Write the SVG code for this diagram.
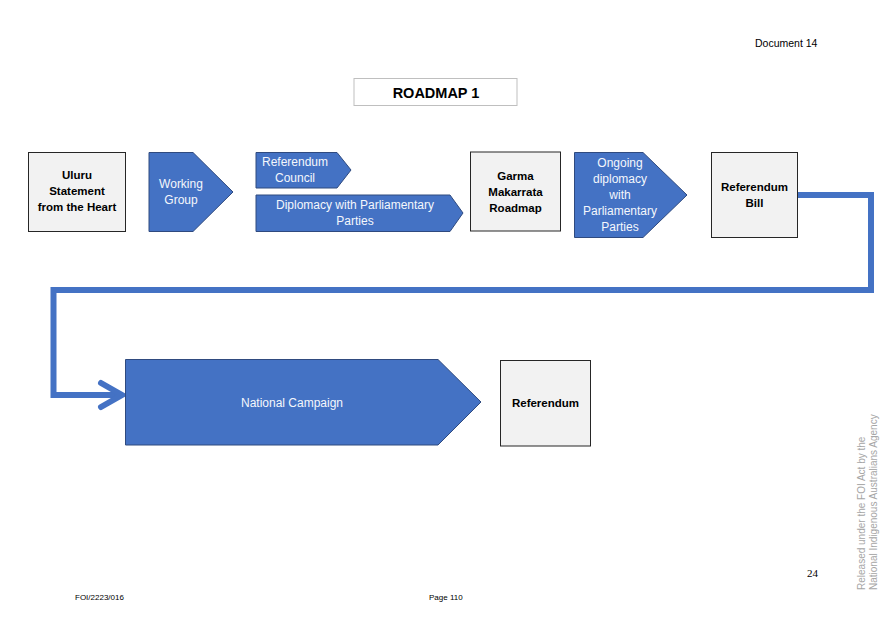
<svg xmlns="http://www.w3.org/2000/svg" width="893" height="629" viewBox="0 0 893 629">
<defs>
<style>
.box{fill:#F2F2F2;stroke:#262626;stroke-width:1}
.arrow{fill:#4472C4;stroke:#2F4A7F;stroke-width:1}
.wt{font-family:"Liberation Sans",Arial,sans-serif;font-size:12px;fill:#F4F7FC;text-anchor:middle}
.bt{font-family:"Liberation Sans",Arial,sans-serif;font-size:11.5px;font-weight:bold;fill:#000;text-anchor:middle}
.sm{font-family:"Liberation Sans",Arial,sans-serif;font-size:8px;fill:#000}
.wm{font-family:"Liberation Sans",Arial,sans-serif;font-size:10px;fill:#A6A6A6}
.conn{fill:none;stroke:#4472C4;stroke-width:6;stroke-linejoin:miter}
</style>
</defs>
<rect width="893" height="629" fill="#FFFFFF"/>

<text x="755" y="47" font-family="'Liberation Sans',Arial,sans-serif" font-size="10.5px" fill="#000">Document 14</text>

<g id="title">
<rect x="354" y="78.5" width="163" height="27" fill="#FFFFFF" stroke="#BFBFBF" stroke-width="1"/>
<text x="436" y="97.5" font-family="'Liberation Sans',Arial,sans-serif" font-size="14.5px" font-weight="bold" text-anchor="middle" fill="#000">ROADMAP 1</text>
</g>

<g id="connectors">
<polyline class="conn" points="798,195 871,195 871,290 53.5,290 53.5,395 122,395"/>
<polyline class="conn" points="101,383 122,395 101,407" stroke-linecap="round" stroke-linejoin="round"/>
</g>

<g id="uluru">
<rect class="box" x="28.5" y="152.5" width="97" height="79"/>
<text class="bt" x="77" y="179">Uluru</text>
<text class="bt" x="77" y="195">Statement</text>
<text class="bt" x="77" y="211">from the Heart</text>
</g>

<g id="working-group">
<polygon class="arrow" points="149,152.5 193,152.5 233,192 193,231.5 149,231.5"/>
<text class="wt" x="181" y="188">Working</text>
<text class="wt" x="181" y="204">Group</text>
</g>

<g id="referendum-council">
<polygon class="arrow" points="256,152.5 337,152.5 351,170 337,188 256,188"/>
<text class="wt" x="295" y="166">Referendum</text>
<text class="wt" x="295" y="182">Council</text>
</g>

<g id="diplomacy">
<polygon class="arrow" points="256,195 450,195 463,213 450,231.5 256,231.5"/>
<text class="wt" x="355" y="209">Diplomacy with Parliamentary</text>
<text class="wt" x="355" y="225">Parties</text>
</g>

<g id="garma">
<rect class="box" x="470.5" y="152" width="90" height="79"/>
<text class="bt" x="515.5" y="180">Garma</text>
<text class="bt" x="515.5" y="196">Makarrata</text>
<text class="bt" x="515.5" y="212">Roadmap</text>
</g>

<g id="ongoing">
<polygon class="arrow" points="574.5,152.5 643,152.5 687,195 643,237.5 574.5,237.5"/>
<text class="wt" x="620" y="167">Ongoing</text>
<text class="wt" x="620" y="183">diplomacy</text>
<text class="wt" x="620" y="199">with</text>
<text class="wt" x="620" y="215">Parliamentary</text>
<text class="wt" x="620" y="231">Parties</text>
</g>

<g id="referendum-bill">
<rect class="box" x="711.5" y="152.5" width="86" height="85"/>
<text class="bt" x="754.5" y="191">Referendum</text>
<text class="bt" x="754.5" y="207">Bill</text>
</g>

<g id="national-campaign">
<polygon class="arrow" points="125.5,359.5 438,359.5 481,402 438,445 125.5,445"/>
<text class="wt" x="292" y="407">National Campaign</text>
</g>

<g id="referendum">
<rect class="box" x="500.5" y="360.5" width="90" height="85.5"/>
<text class="bt" x="545.5" y="407">Referendum</text>
</g>

<text x="807" y="577" font-family="'Liberation Serif','Times New Roman',serif" font-size="11px" fill="#000">24</text>

<text class="wm" transform="translate(865,590) rotate(-90)">Released under the FOI Act by the</text>
<text class="wm" transform="translate(877,590) rotate(-90)">National Indigenous Australians Agency</text>

<text class="sm" x="75" y="600">FOI/2223/016</text>
<text class="sm" x="429" y="600">Page 110</text>
</svg>
